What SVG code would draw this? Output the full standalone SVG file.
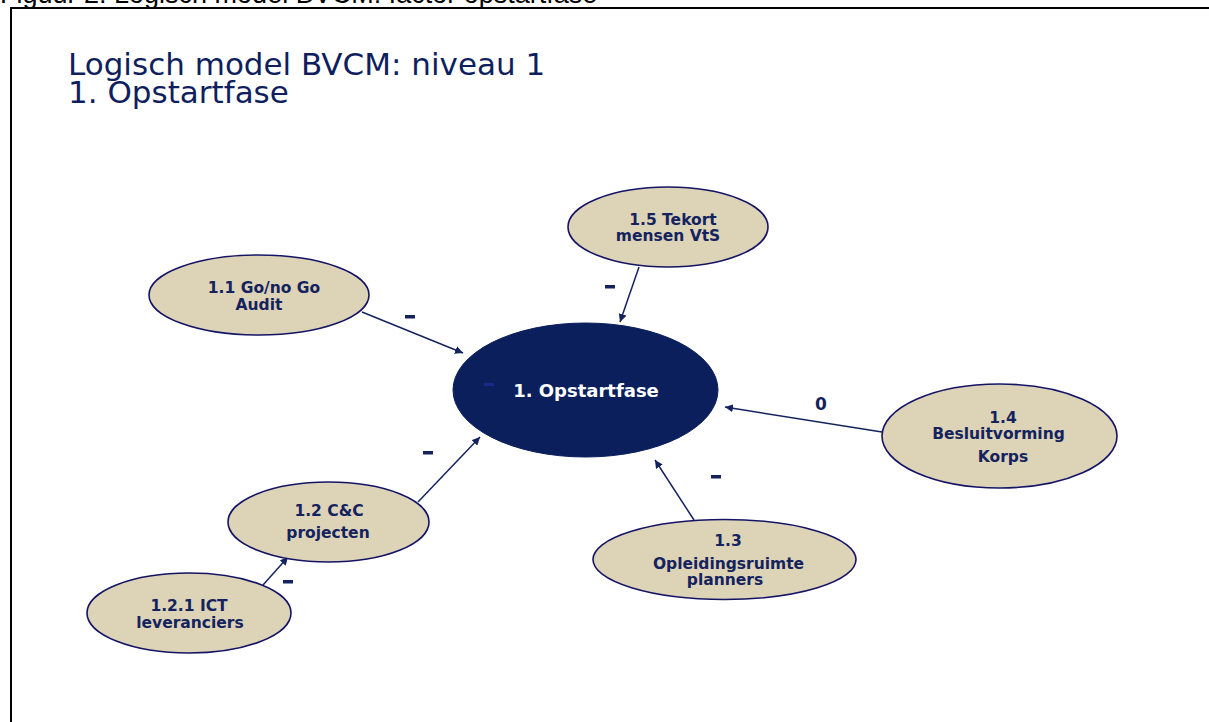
<svg xmlns="http://www.w3.org/2000/svg" width="1209" height="722" viewBox="0 0 1209 722">
  <style>
    .caption { font-family: "Liberation Sans", Arial, sans-serif; font-size: 27px; fill: #000; }
    .title { font-family: "DejaVu Sans", Verdana, sans-serif; font-size: 31px; fill: #0f1f5e; }
    .node { fill: #ddd3b7; stroke: #141466; stroke-width: 1.6; }
    .core { fill: #0b1f5c; stroke: #0b1f5c; stroke-width: 1; }
    .lbl { font-family: "DejaVu Sans", Verdana, sans-serif; font-size: 15.5px; font-weight: bold; fill: #14235e; text-anchor: middle; }
    .corelbl { font-family: "DejaVu Sans", Verdana, sans-serif; font-size: 18px; font-weight: bold; fill: #ffffff; text-anchor: middle; }
    .edge { stroke: #14235e; stroke-width: 1.5; fill: none; marker-end: url(#head); }
    .sign { font-family: "DejaVu Sans", Verdana, sans-serif; font-size: 17px; font-weight: bold; fill: #14235e; text-anchor: middle; }
    .dash { fill: #14235e; }
  </style>
  <defs>
    <marker id="head" viewBox="0 0 10 10" refX="10" refY="5" markerWidth="8" markerHeight="8" markerUnits="userSpaceOnUse" orient="auto">
      <path d="M0,0 L10,5 L0,10 Z" fill="#14235e"/>
    </marker>
  </defs>

  <rect width="1209" height="722" fill="#ffffff"/>

  <!-- figure caption, clipped by the top of the page -->
  <text class="caption" x="0" y="3">Figuur 2: Logisch model BVCM: factor opstartfase</text>

  <!-- frame -->
  <path d="M11,722 L11,8 L1209,8" fill="none" stroke="#000" stroke-width="2"/>

  <!-- slide title -->
  <text class="title" x="68" y="75">Logisch model BVCM: niveau 1</text>
  <text class="title" x="68" y="103">1. Opstartfase</text>

  <!-- connectors -->
  <g id="connectors">
    <line class="edge" x1="362" y1="312" x2="463" y2="353"/>
    <line class="edge" x1="639" y1="267" x2="620" y2="322"/>
    <line class="edge" x1="882" y1="432" x2="725" y2="407"/>
    <line class="edge" x1="694" y1="520" x2="655" y2="460"/>
    <line class="edge" x1="418" y1="502" x2="480" y2="437"/>
    <line class="edge" x1="263" y1="585" x2="288" y2="557"/>
    <!-- polarity signs -->
    <rect class="dash" x="405" y="315" width="10" height="3.5"/>
    <rect class="dash" x="605" y="285" width="10" height="3.5"/>
    <text class="sign" x="821" y="410">0</text>
    <rect class="dash" x="711" y="475" width="10" height="3.5"/>
    <rect class="dash" x="423" y="451" width="10" height="3.5"/>
    <rect class="dash" x="283" y="580" width="10" height="3.5"/>
  </g>

  <g id="n1">
    <ellipse class="core" cx="585.5" cy="390" rx="132.5" ry="67"/>
    <rect x="484" y="383" width="10" height="3" fill="#1a2a8a"/>
    <text class="corelbl" x="586" y="397">1. Opstartfase</text>
  </g>

  <g id="n1_1">
    <ellipse class="node" cx="259" cy="295" rx="110" ry="40"/>
    <text class="lbl" x="264" y="293">1.1 Go/no Go</text>
    <text class="lbl" x="259" y="310">Audit</text>
  </g>

  <g id="n1_5">
    <ellipse class="node" cx="668" cy="227" rx="100" ry="40"/>
    <text class="lbl" x="673" y="225">1.5 Tekort</text>
    <text class="lbl" x="668" y="241">mensen VtS</text>
  </g>

  <g id="n1_4">
    <ellipse class="node" cx="999.5" cy="436" rx="117.5" ry="52"/>
    <text class="lbl" x="1003" y="423">1.4</text>
    <text class="lbl" x="998.5" y="439">Besluitvorming</text>
    <text class="lbl" x="1003" y="462">Korps</text>
  </g>

  <g id="n1_3">
    <ellipse class="node" cx="724.5" cy="559.5" rx="131.5" ry="40"/>
    <text class="lbl" x="728" y="546">1.3</text>
    <text class="lbl" x="728.5" y="569">Opleidingsruimte</text>
    <text class="lbl" x="725" y="585">planners</text>
  </g>

  <g id="n1_2">
    <ellipse class="node" cx="328.5" cy="522" rx="100.5" ry="40"/>
    <text class="lbl" x="329" y="516">1.2 C&amp;C</text>
    <text class="lbl" x="328" y="538">projecten</text>
  </g>

  <g id="n1_2_1">
    <ellipse class="node" cx="189" cy="613" rx="102" ry="40"/>
    <text class="lbl" x="189" y="611">1.2.1 ICT</text>
    <text class="lbl" x="190" y="628">leveranciers</text>
  </g>
</svg>
